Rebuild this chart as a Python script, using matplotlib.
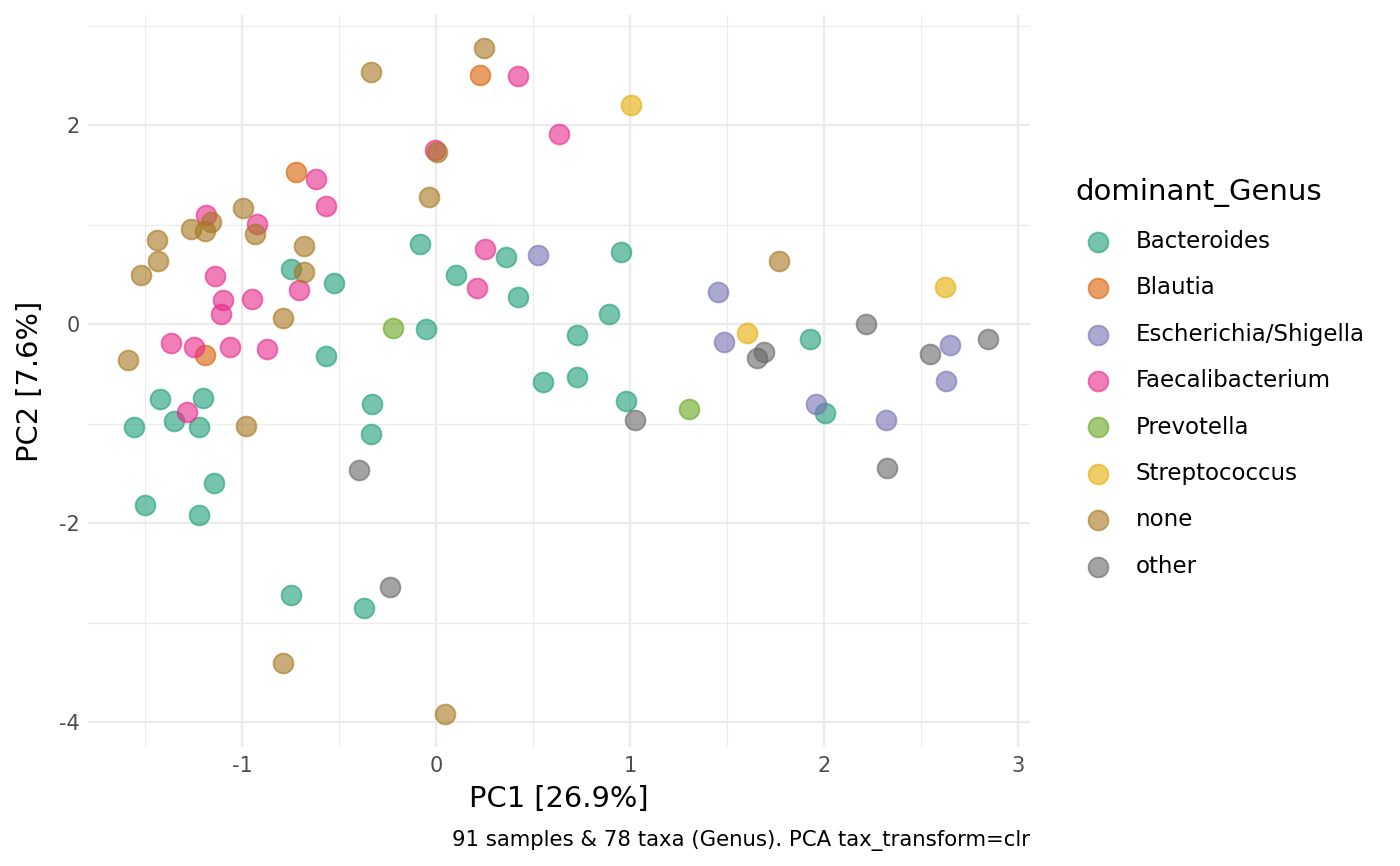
import matplotlib
matplotlib.use("Agg")
import matplotlib.pyplot as plt
import numpy as np

plt.rcParams['font.family'] = ['DejaVu Sans']
plt.rcParams['axes.unicode_minus'] = False

# PCA scores per dominant genus
genera = ["Bacteroides", "Blautia", "Escherichia/Shigella", "Faecalibacterium",
          "Prevotella", "Streptococcus", "none", "other"]
colors = ["#1B9E77", "#D95F02", "#7570B3", "#E7298A",
          "#66A61E", "#E6AB02", "#A6761D", "#666666"]

bact_x = [-0.747, -0.526, -0.567, -1.423, -1.201, -1.351, -1.557, -1.222, -0.330, -0.335,
          -0.747, -0.371, -1.144, -1.500, -1.222, -0.082, 0.361, 0.954, 0.103, 0.423,
          0.892, 0.727, -0.052, 0.552, 0.727, 0.979, 1.928, 2.005]
bact_y = [0.553, 0.412, -0.322, -0.754, -0.744, -0.975, -1.035, -1.035, -0.804, -1.106,
          -2.724, -2.854, -1.598, -1.819, -1.920, 0.804, 0.673, 0.724, 0.492, 0.271,
          0.101, -0.111, -0.050, -0.583, -0.533, -0.774, -0.151, -0.894]

blau_x = [-0.722, -1.191, 0.227]
blau_y = [1.528, -0.312, 2.503]

esch_x = [0.526, 1.454, 1.485, 2.649, 2.629, 1.959, 2.320]
esch_y = [0.693, 0.322, -0.181, -0.211, -0.573, -0.804, -0.965]

faec_x = [-0.619, -0.567, -1.186, -0.923, -1.139, -0.706, -1.098, -0.948, -1.108, -1.366,
          -1.247, -1.062, -0.871, -1.284, 0.423, 0.634, -0.005, 0.253, 0.211]
faec_y = [1.457, 1.186, 1.095, 1.005, 0.482, 0.342, 0.241, 0.251, 0.101, -0.191,
          -0.231, -0.231, -0.251, -0.884, 2.492, 1.910, 1.749, 0.754, 0.362]

prev_x = [-0.222, 1.304]
prev_y = [-0.040, -0.854]

strep_x = [1.005, 1.603, 2.624]
strep_y = [2.201, -0.090, 0.372]

none_x = [-0.995, -1.160, -1.263, -1.191, -0.933, -1.438, -0.680, -1.433, -0.680, -1.521,
          -0.789, -1.588, -0.979, -0.789, 0.046, 0.247, -0.335, 0.005, -0.036, 1.768]
none_y = [1.166, 1.025, 0.955, 0.935, 0.905, 0.844, 0.784, 0.633, 0.523, 0.492,
          0.060, -0.362, -1.025, -3.407, -3.920, 2.774, 2.533, 1.729, 1.276, 0.633]

other_x = [-0.397, -0.237, 2.216, 2.845, 2.546, 1.691, 1.655, 1.026, 2.325]
other_y = [-1.467, -2.643, 0.000, -0.151, -0.302, -0.281, -0.342, -0.965, -1.447]

xs = [bact_x, blau_x, esch_x, faec_x, prev_x, strep_x, none_x, other_x]
ys = [bact_y, blau_y, esch_y, faec_y, prev_y, strep_y, none_y, other_y]

fig = plt.figure(figsize=(14, 8.66), dpi=100)
ax = fig.add_axes([0.063, 0.137, 0.673, 0.846])

for g, c, x, y in zip(genera, colors, xs, ys):
    ax.scatter(x, y, s=205, color=c, edgecolors=c, linewidths=1.3, alpha=0.6,
               label=g, zorder=3)

ally = np.concatenate([np.array(v) for v in ys])
dy = (ally.max() - ally.min()) * 0.05
ax.set_xlim(-1.794, 3.062)
ax.set_ylim(ally.min() - dy, ally.max() + dy)

ax.set_xticks([-1, 0, 1, 2, 3])
ax.set_yticks([-4, -2, 0, 2])
ax.set_xticks([-1.5, -0.5, 0.5, 1.5, 2.5], minor=True)
ax.set_yticks([-3, -1, 1, 3], minor=True)
ax.grid(which='major', color='#EBEBEB', linewidth=1.6, zorder=0)
ax.grid(which='minor', color='#EBEBEB', linewidth=0.8, zorder=0)
ax.set_axisbelow(True)
ax.tick_params(which='both', length=0, labelsize=15, labelcolor='#4D4D4D', pad=6)
for s in ax.spines.values():
    s.set_visible(False)

ax.set_xlabel("PC1 [26.9%]", fontsize=20.8, labelpad=7)
ax.set_ylabel("PC2 [7.6%]", fontsize=20.8, labelpad=11)

fig.text(0.736, 0.030, "91 samples & 78 taxa (Genus). PCA tax_transform=clr",
         ha='right', va='center', fontsize=15.3)

leg = ax.legend(title="dominant_Genus", loc='upper left',
                bbox_to_anchor=(1055 / 1400, 1 - 157 / 866),
                bbox_transform=fig.transFigure, frameon=False,
                fontsize=16.5, title_fontsize=21, alignment='left',
                handlelength=1.92, handletextpad=0.7, labelspacing=1.02,
                scatterpoints=1)

fig.savefig("out.png", dpi=100)
